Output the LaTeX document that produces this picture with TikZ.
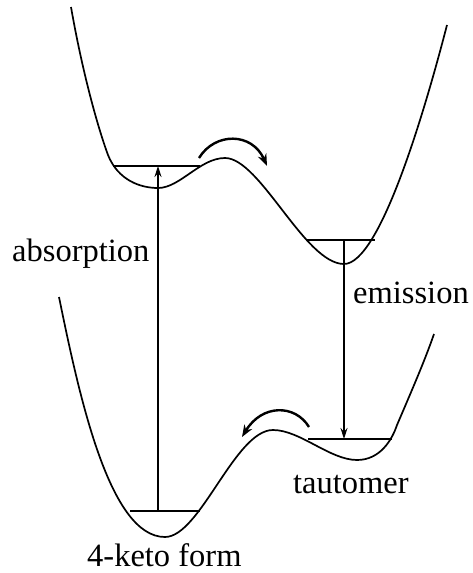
\documentclass[tikz,border=0pt]{standalone}
\usepackage{fontspec}
\setmainfont{Liberation Serif}
\usetikzlibrary{arrows.meta}
\begin{document}
\begin{tikzpicture}[x=1pt,y=-1pt,
  pot/.style={line width=1.7pt,line join=round},
  lev/.style={line width=1.5pt},
  trans/.style={line width=1.3pt,-{Stealth[length=11pt,width=7pt]}},
  hop/.style={line width=2.4pt,-{Stealth[length=12pt,width=9pt]}},
  lab/.style={inner sep=0pt,anchor=base west,font=\fontsize{32.5}{38}\selectfont}]
\useasboundingbox (0,0) rectangle (473,573);
% upper potential
\draw[pot] (71,7) .. controls (82,70) and (97,125) .. (108,155)
  .. controls (118,180) and (140,188) .. (158,188)
  .. controls (180,188) and (200,158) .. (225,158)
  .. controls (260,158) and (305,264) .. (344,264)
  .. controls (380,264) and (425,110) .. (447,25);
% lower potential
\draw[pot] (59,297) .. controls (80,400) and (110,537) .. (165,537)
  .. controls (200,537) and (235,430) .. (273,430)
  .. controls (300,430) and (330,460) .. (357,460)
  .. controls (380,460) and (392,440) .. (397,425)
  .. controls (412,390) and (425,360) .. (434,334);
% vibrational levels
\coordinate (uL) at (113,166); \coordinate (uR) at (200,166); \coordinate (uA) at (158,166);
\coordinate (eL) at (306,240); \coordinate (eR) at (375,240); \coordinate (eA) at (344,240);
\coordinate (kL) at (130,511); \coordinate (kR) at (200,511); \coordinate (kA) at (158,511);
\coordinate (tL) at (308,439); \coordinate (tR) at (392,439); \coordinate (tA) at (344,439);
\draw[lev] (uL) -- (uR);
\draw[lev] (eL) -- (eR);
\draw[lev] (kL) -- (kR);
\draw[lev] (tL) -- (tR);
% transitions
\draw[trans] (kA) -- (uA);
\draw[trans] (eA) -- (tA);
% tautomerisation arrows
\coordinate (h1s) at (199,158); \coordinate (h1e) at (267,166);
\coordinate (h2s) at (309,427); \coordinate (h2e) at (242,437);
\draw[hop] (h1s) .. controls (215,132) and (252,132) .. (h1e);
\draw[hop] (h2s) .. controls (295,404) and (262,404) .. (h2e);
% labels
\node[lab] (abs) at (12,261) {absorption};
\node[lab] (emi) at (353,303) {emission};
\node[lab] (tau) at (293,493) {tautomer};
\node[lab] (ket) at (87,566) {4-keto form};
\end{tikzpicture}
\end{document}
